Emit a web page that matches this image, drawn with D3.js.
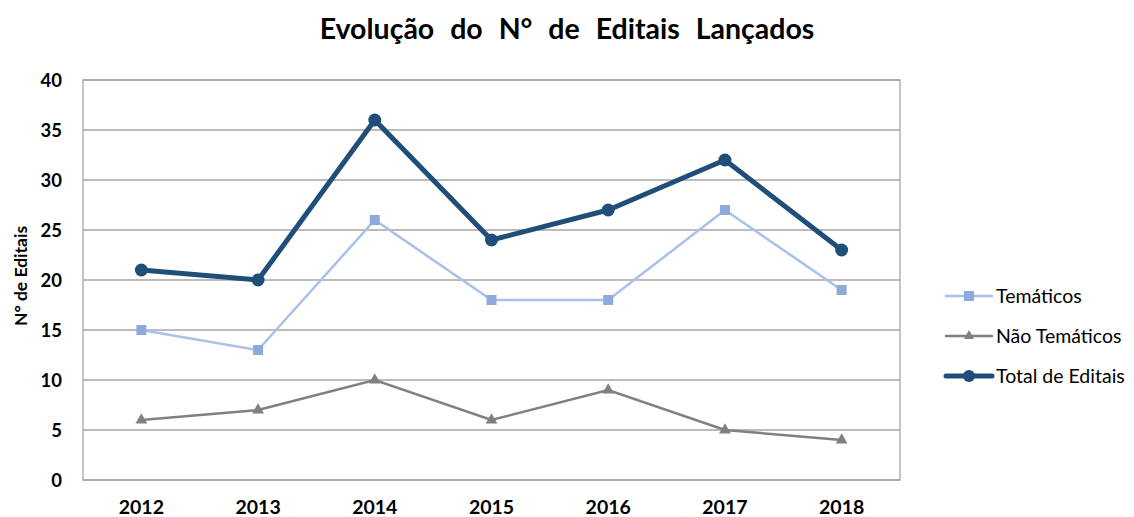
<!DOCTYPE html>
<html><head><meta charset="utf-8">
<script src="https://cdn.jsdelivr.net/npm/d3@7"></script>
<style>body{margin:0;background:#fff;} svg{display:block;}</style>
</head><body>
<svg id="c" width="1134" height="517"></svg>
<script>
const years = ["2012","2013","2014","2015","2016","2017","2018"];
const tematicos = [15,13,26,18,18,27,19];
const naoTematicos = [6,7,10,6,9,5,4];
const totalEditais = [21,20,36,24,27,32,23];
const yTicks = [0,5,10,15,20,25,30,35,40];

const svg = d3.select("#c");
const font = "Lato, 'Open Sans', sans-serif";
const m = {l:83, r:900, t:80, b:480};
const x = d3.scaleBand().domain(years).range([m.l, m.r]);
const y = d3.scaleLinear().domain([0,40]).range([m.b, m.t]);

svg.append("text").attr("x",567).attr("y",39).attr("text-anchor","middle")
  .attr("font-family",font).attr("font-weight","bold").attr("font-size",28.5)
  .attr("word-spacing","9px").text("Evolução do N° de Editais Lançados");

// grid
svg.append("g").selectAll("line").data(yTicks).join("line")
  .attr("x1",m.l).attr("x2",m.r).attr("y1",d=>y(d)).attr("y2",d=>y(d))
  .attr("stroke","#a6a6a6").attr("stroke-width",1.3);
svg.append("rect").attr("x",m.l).attr("y",m.t).attr("width",m.r-m.l).attr("height",m.b-m.t)
  .attr("fill","none").attr("stroke","#a6a6a6").attr("stroke-width",1.3);

// y axis labels
const yAxis = d3.axisLeft(y).tickValues(yTicks).tickSize(0).tickPadding(0);
const ya = svg.append("g").attr("transform",`translate(${62},0)`).call(yAxis);
ya.select(".domain").remove();
ya.selectAll("text").attr("font-family",font).attr("font-weight","bold").attr("font-size",18.5).attr("fill","#000").attr("dy","0.35em");

const xAxis = d3.axisBottom(x).tickSize(0).tickPadding(0);
const xa = svg.append("g").attr("transform",`translate(0,${500})`).call(xAxis);
xa.select(".domain").remove();
xa.selectAll("text").attr("font-family",font).attr("font-weight","bold").attr("font-size",19.5).attr("fill","#000").attr("dy","0.72em");

svg.append("text").attr("transform","translate(27,276) rotate(-90)").attr("text-anchor","middle")
  .attr("font-family",font).attr("font-weight","bold").attr("font-size",17.5).text("N° de Editais");

const cx = d => x(d) + x.bandwidth()/2;
const line = d3.line().x((d,i)=>cx(years[i])).y(d=>y(d));

// Não temáticos
svg.append("path").datum(naoTematicos).attr("d",line).attr("fill","none").attr("stroke","#808080").attr("stroke-width",2.5);
const tri = d3.symbol().type(d3.symbolTriangle).size(60);
svg.append("g").selectAll("path").data(naoTematicos).join("path")
  .attr("d",tri).attr("transform",(d,i)=>`translate(${cx(years[i])},${y(d)})`).attr("fill","#808080");

// Temáticos
svg.append("path").datum(tematicos).attr("d",line).attr("fill","none").attr("stroke","#a9c0e8").attr("stroke-width",2.5);
svg.append("g").selectAll("rect").data(tematicos).join("rect")
  .attr("x",(d,i)=>cx(years[i])-5).attr("y",d=>y(d)-5).attr("width",10).attr("height",10).attr("fill","#8eaadc");

// Total
svg.append("path").datum(totalEditais).attr("d",line).attr("fill","none").attr("stroke","#1f4e79").attr("stroke-width",5).attr("stroke-linejoin","round");
svg.append("g").selectAll("circle").data(totalEditais).join("circle")
  .attr("cx",(d,i)=>cx(years[i])).attr("cy",d=>y(d)).attr("r",6.5).attr("fill","#1f4e79");

// legend
const leg = [
  {name:"Temáticos", color:"#a9c0e8", mk:"#8eaadc", w:2.5, type:"sq"},
  {name:"Não Temáticos", color:"#808080", mk:"#808080", w:2.5, type:"tri"},
  {name:"Total de Editais", color:"#1f4e79", mk:"#1f4e79", w:5, type:"circ"}
];
const lg = svg.append("g").selectAll("g").data(leg).join("g").attr("transform",(d,i)=>`translate(946,${296+i*40})`);
lg.append("line").attr("x1",0).attr("x2",46).attr("stroke",d=>d.color).attr("stroke-width",d=>d.w).attr("stroke-linecap","round");
lg.each(function(d){
  const g = d3.select(this);
  if(d.type==="sq") g.append("rect").attr("x",18).attr("y",-5).attr("width",10).attr("height",10).attr("fill",d.mk);
  else if(d.type==="tri") g.append("path").attr("d",d3.symbol().type(d3.symbolTriangle).size(45)).attr("transform","translate(23,0)").attr("fill",d.mk);
  else g.append("circle").attr("cx",23).attr("cy",0).attr("r",6).attr("fill",d.mk);
});
lg.append("text").attr("x",50).attr("dy","0.35em").attr("font-family",font).attr("font-size",19.5).attr("fill","#000").text(d=>d.name);
</script>
</body></html>
